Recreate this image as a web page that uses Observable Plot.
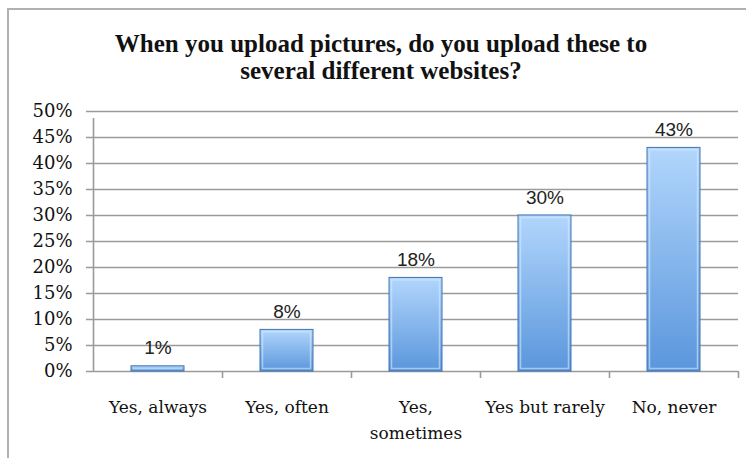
<!DOCTYPE html>
<html>
<head>
<meta charset="utf-8">
<script src="https://cdn.jsdelivr.net/npm/d3@7"></script>
<script src="https://cdn.jsdelivr.net/npm/@observablehq/plot@0.6"></script>
<style>
  html, body { margin: 0; padding: 0; background: #fff; }
  #page { position: relative; width: 746px; height: 458px; overflow: hidden; background: #fff; }
  #frame { position: absolute; left: 7px; top: 8px; width: 760px; height: 470px; border: 2px solid #b0b0b0; box-sizing: border-box; z-index: 5; pointer-events: none; }
  #title { position: absolute; left: 0; top: 30px; width: 762px; text-align: center;
    font-family: "Liberation Serif", serif; font-weight: bold; font-size: 25px; line-height: 27px; color: #111; }
  #chart { position: absolute; left: 0; top: 90px; }
</style>
</head>
<body>
<div id="page">
  <div id="title">When you upload pictures, do you upload these to<br>several different websites?</div>
  <div id="chart"></div>
  <div id="frame"></div>
</div>
<script>
const categories = ["Yes, always", "Yes, often", "Yes, sometimes", "Yes but rarely", "No, never"];
const values = [0.01, 0.08, 0.18, 0.30, 0.43];
const valueLabels = ["1%", "8%", "18%", "30%", "43%"];
const categoryLabels = ["Yes, always", "Yes, often", "Yes,\nsometimes", "Yes but rarely", "No, never"];
const yTicks = [0, 0.05, 0.10, 0.15, 0.20, 0.25, 0.30, 0.35, 0.40, 0.45, 0.50];

const data = categories.map((c, i) => ({category: c, value: values[i], label: valueLabels[i]}));
const labelOf = new Map(categories.map((c, i) => [c, categoryLabels[i]]));

const W = 746, H = 368, mL = 93, mR = 8, mT = 21, mB = 87;
const half = (W - mL - mR) / categories.length / 2;

const plot = Plot.plot({
  width: W, height: H,
  marginLeft: mL, marginRight: mR, marginTop: mT, marginBottom: mB,
  x: {domain: categories, padding: 0, label: null},
  y: {domain: [0, 0.5], label: null},
  style: {fontFamily: "DejaVu Serif, serif", fontSize: "17px", color: "#111", background: "transparent"},
  marks: [
    Plot.gridY(yTicks, {stroke: "#9a9a9a", strokeOpacity: 1, strokeWidth: 1.6, insetLeft: -7}),
    Plot.axisY(yTicks, {tickFormat: d3.format(".0%"), tickSize: 0, tickPadding: 21, fontSize: 18, fill: "#111"}),
    Plot.ruleX([categories[0]], {dx: -half, y1: 0, y2: 0.5, insetBottom: -7, stroke: "#9a9a9a", strokeWidth: 1.6}),
    Plot.ruleX(categories, {dx: half, y1: 0, y2: 0, insetBottom: -7, stroke: "#9a9a9a", strokeWidth: 1.6}),
    Plot.barY(data, {x: "category", y: "value", fill: "url(#barGrad)", stroke: "#3e74b3", strokeWidth: 1, insetLeft: 38, insetRight: 38}),
    Plot.barY(data, {x: "category", y: "value", fill: "none", stroke: "#d6e9ff", strokeOpacity: 0.6, strokeWidth: 1.5, insetLeft: 40.5, insetRight: 40.5, insetTop: 2.5, insetBottom: 2.5}),
    Plot.text(data, {x: "category", y: "value", text: "label", dy: -18, fontFamily: "Liberation Sans, sans-serif", fontSize: 19, fill: "#222"}),
    Plot.axisX({tickSize: 0, tickPadding: 23, tickFormat: d => labelOf.get(d), fontSize: 17, fill: "#111", lineHeight: 1.53})
  ]
});

const defs = d3.create("svg:defs");
const g = defs.append("linearGradient").attr("id", "barGrad").attr("x1", 0).attr("y1", 0).attr("x2", 0).attr("y2", 1);
g.append("stop").attr("offset", "0%").attr("stop-color", "#b2d6fc");
g.append("stop").attr("offset", "100%").attr("stop-color", "#5a96dc");
plot.insertBefore(defs.node(), plot.firstChild);

document.getElementById("chart").appendChild(plot);
</script>
</body>
</html>
